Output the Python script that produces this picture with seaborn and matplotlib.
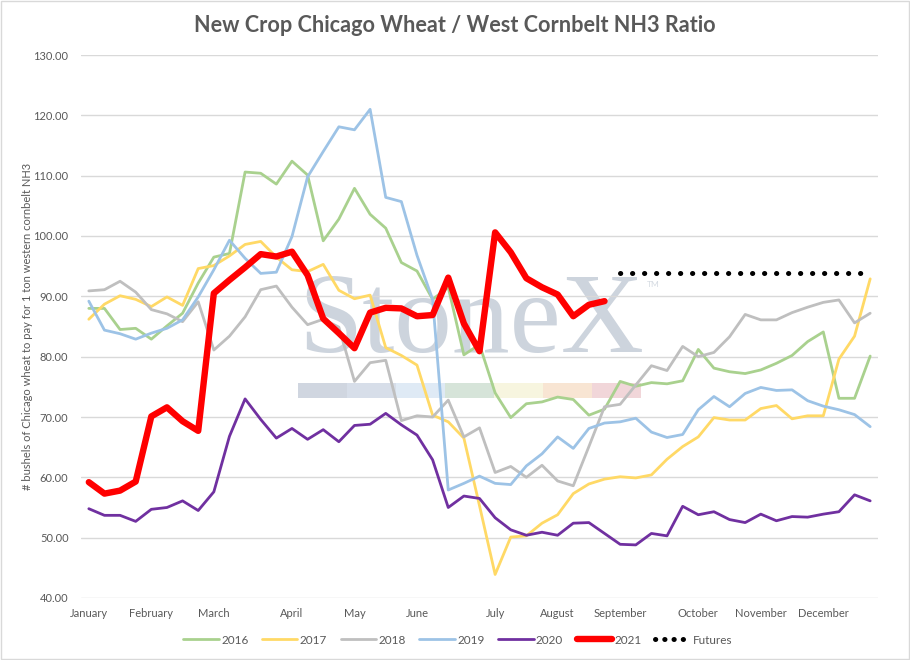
import numpy as np
import pandas as pd
import matplotlib
matplotlib.use("Agg")
import matplotlib.pyplot as plt
from matplotlib.patches import Rectangle
from matplotlib.lines import Line2D
import seaborn as sns

months = ["January", "February", "March", "April", "May", "June", "July",
          "August", "September", "October", "November", "December"]
month_weeks = [0, 4, 8, 13, 17, 21, 26, 30, 34, 39, 43, 47]

s2016 = [88.0, 88.0, 84.5, 84.7, 82.9, 85.1, 87.2, 92.2, 96.5, 97.1, 110.6, 110.4, 108.6,
         112.4, 110.1, 99.2, 102.8, 107.9, 103.6, 101.3, 95.6, 94.2, 89.5, 91.5, 80.3, 82.0,
         74.0, 69.9, 72.2, 72.5, 73.3, 72.9, 70.3, 71.3, 75.9, 75.1, 75.7, 75.5, 76.0, 81.2,
         78.1, 77.5, 77.2, 77.8, 78.9, 80.2, 82.5, 84.1, 73.1, 73.1, 80.1]
s2017 = [86.2, 88.7, 90.1, 89.5, 88.3, 89.9, 88.5, 94.6, 95.1, 96.7, 98.6, 99.1, 96.5,
         94.4, 94.1, 95.3, 91.0, 89.6, 90.2, 81.5, 80.2, 78.6, 70.3, 69.2, 66.5, 55.3,
         43.9, 50.1, 50.3, 52.4, 53.8, 57.3, 58.9, 59.7, 60.1, 59.9, 60.4, 63.0, 65.1, 66.7,
         69.9, 69.5, 69.5, 71.4, 71.9, 69.7, 70.2, 70.2, 79.6, 83.4, 92.9]
s2018 = [90.9, 91.1, 92.5, 90.7, 87.8, 87.1, 85.8, 89.1, 81.1, 83.4, 86.6, 91.1, 91.7,
         88.2, 85.3, 86.2, 84.9, 75.9, 79.0, 79.4, 69.4, 70.2, 70.0, 72.8, 66.7, 68.2,
         60.8, 61.8, 60.0, 62.0, 59.4, 58.6, 65.1, 71.7, 72.1, 75.3, 78.5, 77.7, 81.7, 80.0,
         80.7, 83.3, 87.0, 86.1, 86.1, 87.3, 88.2, 89.0, 89.4, 85.6, 87.2]
s2019 = [89.2, 84.4, 83.8, 82.9, 83.9, 84.7, 86.1, 89.9, 94.4, 99.3, 96.3, 93.8, 94.0,
         99.9, 109.8, 114.0, 118.1, 117.6, 121.0, 106.4, 105.7, 96.8, 89.5, 57.9, 59.0, 60.2,
         59.0, 58.8, 61.9, 63.9, 66.7, 64.8, 68.1, 69.0, 69.2, 69.8, 67.5, 66.6, 67.1, 71.2,
         73.4, 71.7, 73.9, 74.9, 74.4, 74.5, 72.7, 71.8, 71.2, 70.4, 68.4]
s2020 = [54.8, 53.7, 53.7, 52.7, 54.7, 55.0, 56.1, 54.5, 57.6, 66.8, 73.0, 69.6, 66.5,
         68.1, 66.3, 67.9, 65.9, 68.6, 68.8, 70.6, 68.7, 67.0, 62.9, 55.0, 56.9, 56.5,
         53.3, 51.3, 50.4, 50.9, 50.4, 52.4, 52.5, 50.7, 48.9, 48.8, 50.7, 50.3, 55.2, 53.8,
         54.3, 53.0, 52.5, 53.9, 52.8, 53.5, 53.4, 53.9, 54.3, 57.1, 56.1]
s2021 = [59.2, 57.3, 57.8, 59.3, 70.1, 71.6, 69.3, 67.7, 90.5, 92.7, 94.8, 97.0, 96.6,
         97.4, 93.5, 86.3, 83.9, 81.4, 87.3, 88.1, 88.0, 86.7, 86.9, 93.1, 85.5, 80.9,
         100.6, 97.3, 93.0, 91.5, 90.3, 86.7, 88.6, 89.2]
futures_value = 93.8
futures_start, futures_end = 34, 50

series_names = ["2016", "2017", "2018", "2019", "2020", "2021"]
series_vals = [s2016, s2017, s2018, s2019, s2020, s2021]
colors = {"2016": "#A9D18E", "2017": "#FFD966", "2018": "#BFBFBF",
          "2019": "#9DC3E6", "2020": "#7030A0", "2021": "#FF0000"}
widths = {"2016": 2.0, "2017": 2.0, "2018": 2.0, "2019": 2.0, "2020": 2.0, "2021": 4.6}

rows = []
for name, vals in zip(series_names, series_vals):
    for w, v in enumerate(vals):
        rows.append({"week": w, "value": v, "series": name})
for w in range(futures_start, futures_end + 1):
    rows.append({"week": w, "value": futures_value, "series": "Futures"})
df = pd.DataFrame(rows)

sns.set_theme(style="white")
plt.rcParams["font.family"] = ["Lato", "DejaVu Sans"]

fig = plt.figure(figsize=(9.1, 6.6), dpi=100)
ax = fig.add_axes([81 / 910, 62 / 660, 797 / 910, 543 / 660])

txtc = "#595959"
# watermark
wm = ax.text(0.272, 0.453, "StoneX", transform=ax.transAxes, fontsize=86,
             family="Liberation Serif", color="#cdd4dd", ha="left", va="baseline", zorder=0)
bar_cols = ["#d0d6e0", "#d7dee9", "#dfeaf5", "#d6e4d9", "#f7f5df", "#f8e5d3", "#f1d6d9"]
x0 = 0.272
segw = 0.0615
for k, c in enumerate(bar_cols):
    ax.add_patch(Rectangle((x0 + k * segw, 0.368), segw, 0.028, transform=ax.transAxes,
                           facecolor=c, edgecolor="none", zorder=0))

for name in series_names:
    sub = df[df.series == name]
    sns.lineplot(data=sub, x="week", y="value", ax=ax, color=colors[name],
                 linewidth=widths[name], label=name, zorder=3 if name == "2021" else 2)
sub = df[df.series == "Futures"]
sns.lineplot(data=sub, x="week", y="value", ax=ax, color="black", linewidth=3.6,
             linestyle=(0, (0.05, 2.35)), dash_capstyle="round", label="Futures", zorder=3)

ax.set_xlim(-0.5, 50.5)
ax.set_ylim(40, 130)
ax.set_yticks(np.arange(40, 131, 10))
ax.set_yticklabels([f"{v:.2f}" for v in np.arange(40, 131, 10)], color=txtc, fontsize=8)
ax.set_xticks(month_weeks)
ax.set_xticklabels(months, color=txtc, fontsize=8)
ax.tick_params(axis="y", length=0, pad=9)
ax.tick_params(axis="x", length=0, pad=7)
ax.grid(axis="y", color="#d9d9d9", linewidth=1)
ax.set_axisbelow(True)
for sp in ax.spines.values():
    sp.set_visible(False)
ax.set_xlabel("")
ax.set_ylabel("# bushels of Chicago wheat to pay for 1 ton western cornbelt NH3",
              fontsize=8, color=txtc, labelpad=0)

title = fig.text(0.5, 1 - 25 / 660, "New Crop Chicago Wheat / West Cornbelt NH3 Ratio",
                 ha="center", va="center", fontsize=15, fontweight="bold", color=txtc)

handles, labels = ax.get_legend_handles_labels()
if ax.legend_:
    ax.legend_.remove()
handles[-1] = Line2D([], [], color="black", linewidth=3.6, linestyle=(0, (0.05, 1.8)),
                     dash_capstyle="round")
leg = fig.legend(handles, labels, loc="center", bbox_to_anchor=(458 / 910, 20 / 660), ncol=7,
                 frameon=False, fontsize=8.5, handlelength=3.0, columnspacing=1.15,
                 handletextpad=0.2, labelcolor=txtc)

fig.add_artist(Rectangle((0.001, 0.001), 0.998, 0.997, transform=fig.transFigure,
                         fill=False, edgecolor="#d9d9d9", linewidth=1))

# fit title and watermark widths to the reference layout
fig.canvas.draw()
r = fig.canvas.get_renderer()
bw = title.get_window_extent(r).width
title.set_fontsize(15 * 523 / bw)
bw = wm.get_window_extent(r).width
wm.set_fontsize(86 * 346 / bw)
fig.canvas.draw()
bb = wm.get_window_extent(r)
inv = ax.transAxes.inverted()
px, py = inv.transform((bb.x1 + 3, bb.y1 - 8))
ax.text(px, py, "TM", transform=ax.transAxes, fontsize=6, color="#d5dbe2",
        ha="left", va="top", zorder=0)

fig.savefig("out.png", dpi=100)
